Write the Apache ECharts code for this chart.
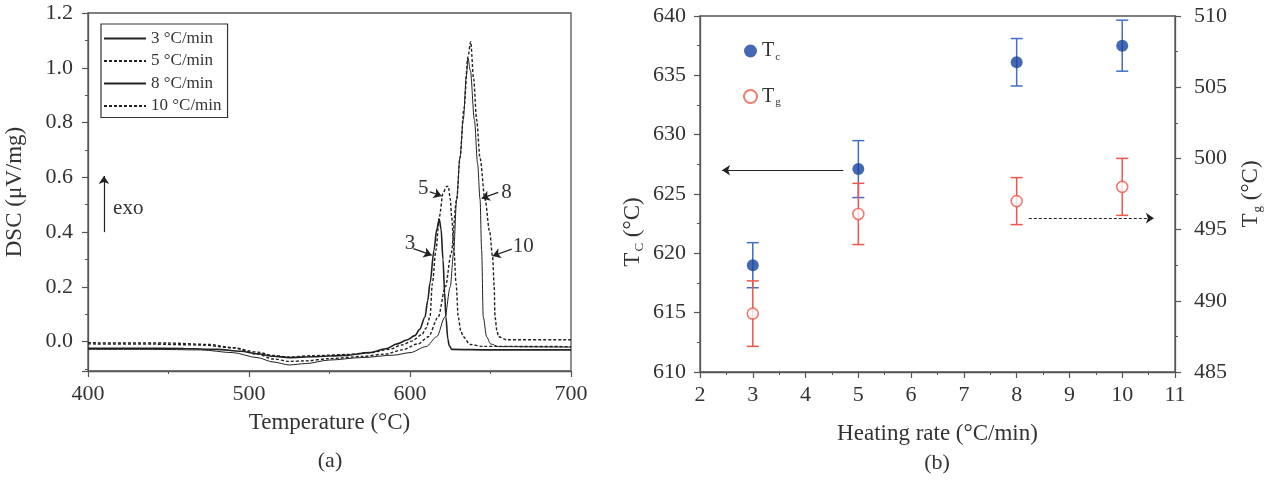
<!DOCTYPE html>
<html>
<head>
<meta charset="utf-8">
<script src="https://cdn.jsdelivr.net/npm/echarts@6/dist/echarts.min.js"></script>
<style>
  html, body { margin: 0; padding: 0; background: #fff; }
  #chart { width: 1280px; height: 482px; }
</style>
</head>
<body>
<div id="chart"></div>
<script>
const FONT = '"Liberation Serif", "Times New Roman", serif';
const INK = '#333';
const AXIS = '#555';

// (a) DSC curves, [temperature °C, DSC µV/mg]
const rateNames = ['3 °C/min', '5 °C/min', '8 °C/min', '10 °C/min'];
const dsc3 = [
  [400, -0.024], [430, -0.024], [460, -0.025], [480, -0.028], [495, -0.035], [505, -0.044],
  [515, -0.053], [525, -0.058], [540, -0.055], [560, -0.05], [575, -0.04], [585, -0.026],
  [592, -0.008], [598, 0.006], [603, 0.022], [606, 0.045], [609.3, 0.09], [611, 0.15],
  [612.4, 0.213], [614.9, 0.334], [616.6, 0.41], [618.2, 0.447], [619.3, 0.41], [620.5, 0.3],
  [621.5, 0.18], [622.3, 0.09], [623.5, 0.01], [624.4, -0.015], [626, -0.028], [650, -0.03], [700, -0.03]
];
const dsc5 = [
  [400, -0.008], [440, -0.009], [470, -0.012], [490, -0.022], [505, -0.038], [515, -0.05],
  [525, -0.056], [540, -0.051], [560, -0.047], [575, -0.04], [587, -0.028], [595, -0.012],
  [601, 0.002], [607.3, 0.025], [610, 0.05], [612.4, 0.09], [613.9, 0.213], [616.1, 0.334],
  [618.2, 0.456], [620.5, 0.54], [622.5, 0.566], [623.8, 0.568], [625, 0.52], [625.9, 0.456],
  [627.3, 0.334], [628.6, 0.213], [630, 0.09], [631.5, 0.04], [633.1, 0.018], [637.3, -0.01],
  [645, -0.017], [700, -0.018]
];
const dsc8 = [
  [400, -0.028], [440, -0.028], [470, -0.03], [490, -0.04], [505, -0.058], [515, -0.074],
  [525, -0.085], [535, -0.08], [550, -0.067], [570, -0.058], [590, -0.049], [600, -0.04],
  [610, -0.018], [616.6, 0.018], [621.7, 0.09], [625, 0.2], [627, 0.32], [629, 0.52],
  [631, 0.67], [633.1, 0.81], [635, 0.97], [636, 1.035], [637.5, 0.99], [640, 0.81],
  [642, 0.65], [643.5, 0.52], [644.5, 0.334], [645.5, 0.09], [647.6, 0.018], [650, -0.008],
  [655, -0.018], [700, -0.02]
];
const dsc10 = [
  [400, -0.004], [450, -0.005], [475, -0.01], [490, -0.022], [505, -0.045], [515, -0.063],
  [525, -0.072], [535, -0.07], [550, -0.062], [570, -0.054], [585, -0.045], [595, -0.03],
  [605, -0.008], [611.4, 0.018], [617.5, 0.09], [622, 0.2], [625.5, 0.32], [629, 0.52],
  [631, 0.67], [633.5, 0.85], [636, 1.04], [637.7, 1.095], [639.5, 0.96], [641.4, 0.81],
  [643.5, 0.67], [646.6, 0.52], [649.5, 0.4], [651.3, 0.31], [652.3, 0.2], [652.8, 0.09],
  [654, 0.04], [655, 0.018], [660, 0.007], [700, 0.007]
];

// (b) characteristic temperatures vs heating rate
const heatingRates = [3, 5, 8, 10];
const tc = [619.0, 627.1, 636.1, 637.5];
const tcErr = [1.9, 2.4, 2.0, 2.15];
const tg = [489.1, 496.1, 497.0, 498.0];
const tgErr = [2.3, 2.15, 1.65, 2.0];

const chart = echarts.init(document.getElementById('chart'));

const txt = (size, extra) => Object.assign({ fontFamily: FONT, fontSize: size, color: INK }, extra || {});

const baseAxis = {
  axisLine: { show: true, onZero: false, lineStyle: { color: AXIS, width: 1.3 } },
  axisTick: { show: true, inside: false, length: 6, lineStyle: { color: AXIS, width: 1.2 } },
  minorTick: { show: true, splitNumber: 2, length: 3, lineStyle: { color: AXIS, width: 1 } },
  splitLine: { show: false },
  minorSplitLine: { show: false },
  nameTextStyle: txt(23)
};

function errorBars(color) {
  return function (params, api) {
    const x = api.value(0);
    const top = api.coord([x, api.value(2)]);
    const bot = api.coord([x, api.value(1)]);
    const w = 6;
    const st = { stroke: color, lineWidth: 1.5 };
    return {
      type: 'group',
      children: [
        { type: 'line', shape: { x1: top[0], y1: top[1], x2: bot[0], y2: bot[1] }, style: st },
        { type: 'line', shape: { x1: top[0] - w, y1: top[1], x2: top[0] + w, y2: top[1] }, style: st },
        { type: 'line', shape: { x1: bot[0] - w, y1: bot[1], x2: bot[0] + w, y2: bot[1] }, style: st }
      ]
    };
  };
}

const arrowLine = (type) => ({
  silent: true,
  symbol: ['none', 'arrow'],
  symbolSize: 8,
  label: { show: false },
  lineStyle: { color: '#222', width: 1.2, type: type || 'solid' },
  emphasis: { disabled: true }
});

const noteLabel = (size) => ({
  silent: true,
  symbol: 'circle',
  symbolSize: 1,
  itemStyle: { color: 'rgba(0,0,0,0)' },
  label: Object.assign({ show: true, position: 'inside', formatter: '{b}' }, txt(size))
});

function dscSeries(name, data, width, dash, peakLabel, arrow) {
  return {
    name: name,
    type: 'line',
    xAxisIndex: 0,
    yAxisIndex: 0,
    data: data,
    showSymbol: false,
    symbol: 'none',
    smooth: 0.3,
    smoothMonotone: 'x',
    lineStyle: { color: '#222', width: width, type: dash },
    itemStyle: { color: '#222' },
    markLine: Object.assign(arrowLine(), { data: [arrow] }),
    markPoint: Object.assign(noteLabel(21), { data: [peakLabel] })
  };
}

const s3 = dscSeries(rateNames[0], dsc3, 1.6, 'solid',
  { name: '3', coord: [600, 0.359] }, [{ coord: [602.1, 0.34] }, { coord: [613.5, 0.316] }]);
const s5 = dscSeries(rateNames[1], dsc5, 1.4, [3, 2],
  { name: '5', coord: [608.3, 0.56] }, [{ coord: [612.4, 0.547] }, { coord: [619.7, 0.532] }]);
const s8 = dscSeries(rateNames[2], dsc8, 1.0, 'solid',
  { name: '8', coord: [660, 0.544] }, [{ coord: [654.8, 0.545] }, { coord: [644.5, 0.523] }]);
const s10 = dscSeries(rateNames[3], dsc10, 1.4, [3, 2],
  { name: '10', coord: [670.4, 0.347] }, [{ coord: [663.2, 0.338] }, { coord: [651.3, 0.313] }]);

// exo arrow and word on the first series
s3.markLine.data.push([{ coord: [409.9, 0.40] }, { coord: [409.9, 0.605] }]);
s3.markPoint.data.push({ name: 'exo', coord: [425, 0.487] });

const subRich = {
  t: { fontFamily: FONT, fontSize: 23, color: INK },
  s: { fontFamily: FONT, fontSize: 13, color: INK, padding: [14, 0, 0, 1] }
};

const option = {
  animation: false,
  backgroundColor: '#fff',
  textStyle: { fontFamily: FONT },
  grid: [
    { left: 88, right: 709, top: 13, bottom: 111, show: true, borderColor: AXIS, borderWidth: 1.3, backgroundColor: 'transparent' },
    { left: 700, right: 105, top: 16, bottom: 110, show: true, borderColor: AXIS, borderWidth: 1.3, backgroundColor: 'transparent' }
  ],
  legend: [
    {
      data: rateNames,
      orient: 'vertical',
      left: 101,
      top: 24,
      itemWidth: 42,
      itemHeight: 12,
      itemGap: 5.5,
      padding: [6, 6, 3, 2],
      borderColor: '#333',
      borderWidth: 1.2,
      selectedMode: false,
      itemStyle: { opacity: 0 },
      textStyle: txt(17)
    },
    {
      data: ['Tc', 'Tg'],
      orient: 'vertical',
      left: 738,
      top: 36,
      itemWidth: 13,
      itemHeight: 13,
      itemGap: 24,
      selectedMode: false,
      formatter: n => (n === 'Tc' ? '{t|T}{s|c}' : '{t|T}{s|g}'),
      textStyle: {
        rich: {
          t: { fontFamily: FONT, fontSize: 20, color: INK },
          s: { fontFamily: FONT, fontSize: 11, color: INK, padding: [12, 0, 0, 1] }
        }
      }
    }
  ],
  xAxis: [
    Object.assign({}, baseAxis, {
      gridIndex: 0, type: 'value', min: 400, max: 700, interval: 100,
      name: 'Temperature (°C)', nameLocation: 'middle', nameGap: 40,
      axisLabel: Object.assign({ margin: 12 }, txt(22))
    }),
    Object.assign({}, baseAxis, {
      gridIndex: 1, type: 'value', min: 2, max: 11, interval: 1,
      name: 'Heating rate (°C/min)', nameLocation: 'middle', nameGap: 50,
      axisLabel: Object.assign({ margin: 12 }, txt(22))
    })
  ],
  yAxis: [
    Object.assign({}, baseAxis, {
      gridIndex: 0, type: 'value', min: -0.107, max: 1.2, splitNumber: 6,
      name: 'DSC (μV/mg)', nameLocation: 'middle', nameGap: 62,
      axisLabel: Object.assign({
        margin: 15,
        formatter: v => (v < -0.001 ? '' : v.toFixed(1))
      }, txt(22))
    }),
    Object.assign({}, baseAxis, {
      gridIndex: 1, type: 'value', min: 610, max: 640, interval: 5, position: 'left',
      name: '{t|T}{s|C}{t| (°C)}', nameLocation: 'middle', nameGap: 54,
      nameTextStyle: { rich: subRich, padding: [0, 76, 0, 0] },
      axisLabel: Object.assign({ margin: 14 }, txt(22))
    }),
    Object.assign({}, baseAxis, {
      gridIndex: 1, type: 'value', min: 485, max: 510, interval: 5, position: 'right',
      name: '{t|T}{s|g}{t| (°C)}', nameLocation: 'middle', nameGap: 62,
      nameTextStyle: { rich: subRich },
      axisLabel: Object.assign({ margin: 19 }, txt(22))
    })
  ],
  series: [
    s3, s5, s8, s10,
    {
      name: 'TcErr', type: 'custom', xAxisIndex: 1, yAxisIndex: 1, silent: true,
      renderItem: errorBars('#3f6fc6'),
      encode: { x: 0, y: [1, 2] },
      data: heatingRates.map((r, i) => [r, tc[i] - tcErr[i], tc[i] + tcErr[i]]),
      z: 2
    },
    {
      name: 'TgErr', type: 'custom', xAxisIndex: 1, yAxisIndex: 2, silent: true,
      renderItem: errorBars('#f0564a'),
      encode: { x: 0, y: [1, 2] },
      data: heatingRates.map((r, i) => [r, tg[i] - tgErr[i], tg[i] + tgErr[i]]),
      z: 2
    },
    {
      name: 'Tc', type: 'scatter', xAxisIndex: 1, yAxisIndex: 1,
      data: heatingRates.map((r, i) => [r, tc[i]]),
      symbol: 'circle', symbolSize: 12,
      itemStyle: { color: '#17449f' },
      markLine: Object.assign(arrowLine(), { data: [[{ coord: [4.715, 627.0] }, { coord: [2.418, 627.0] }]] }),
      z: 3
    },
    {
      name: 'Tg', type: 'scatter', xAxisIndex: 1, yAxisIndex: 2,
      data: heatingRates.map((r, i) => [r, tg[i]]),
      symbol: 'circle', symbolSize: 11,
      itemStyle: { color: '#fff', borderColor: '#f0564a', borderWidth: 1.6 },
      markLine: Object.assign(arrowLine([3, 2]), { data: [[{ coord: [8.23, 495.8] }, { coord: [10.6, 495.8] }]] }),
      z: 3
    }
  ],
  graphic: [
    { type: 'text', x: 330, y: 461, style: Object.assign({ text: '(a)', align: 'center', verticalAlign: 'middle', fill: INK }, { fontFamily: FONT, fontSize: 22 }) },
    { type: 'text', x: 937, y: 463, style: Object.assign({ text: '(b)', align: 'center', verticalAlign: 'middle', fill: INK }, { fontFamily: FONT, fontSize: 22 }) }
  ]
};

chart.setOption(option);
</script>
</body>
</html>
